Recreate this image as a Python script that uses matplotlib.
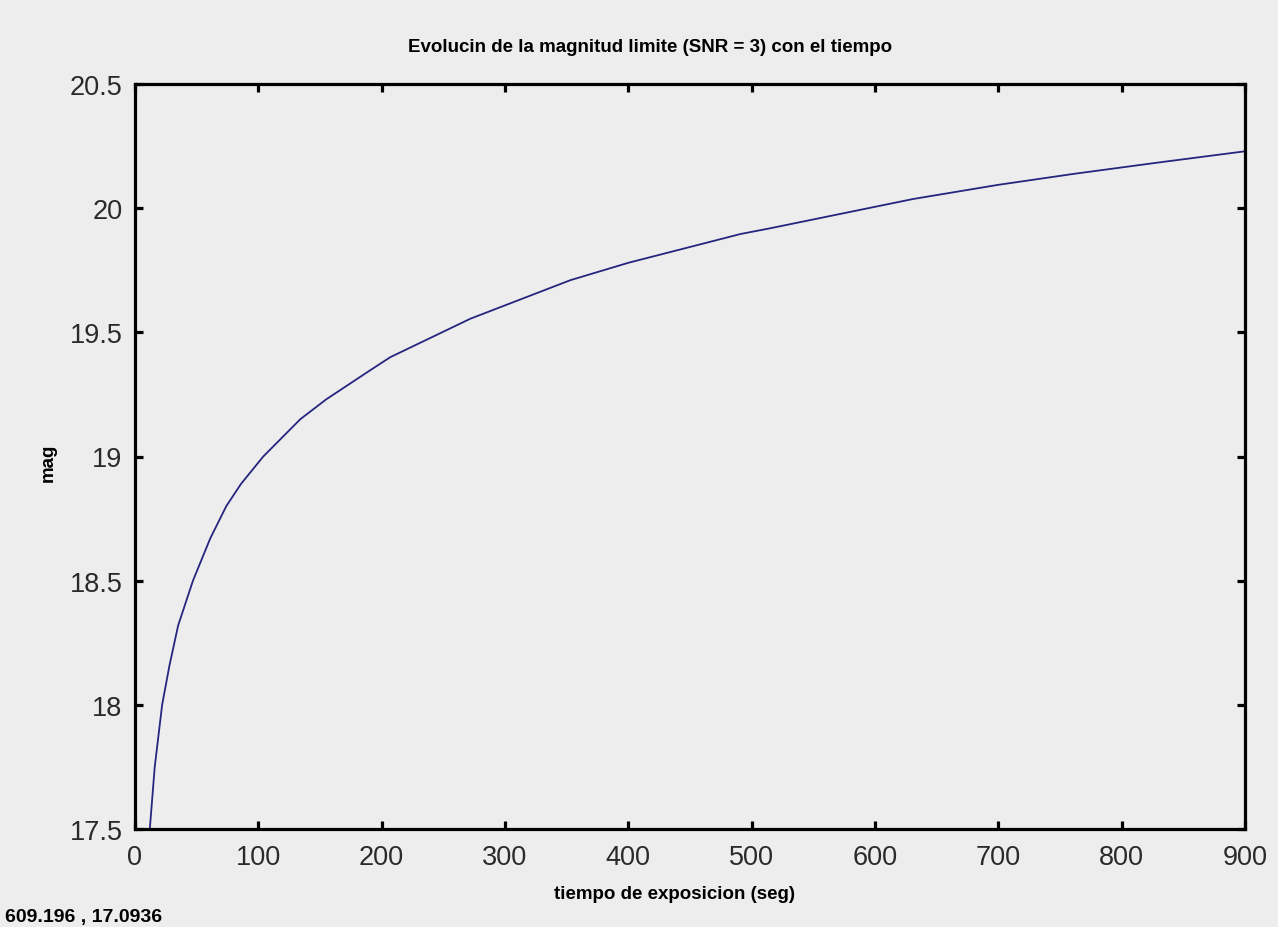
import matplotlib
matplotlib.use('Agg')
import matplotlib.pyplot as plt

# exposure time (s) and limiting magnitude at SNR = 3
tiempo = [12, 16, 22, 28, 35, 47, 61, 74, 86, 104, 134, 155, 190, 207, 272,
          353, 400, 491, 515, 631, 700, 761, 830, 900]
magnitud = [17.50, 17.75, 18.00, 18.16, 18.32, 18.50, 18.67, 18.80, 18.89,
            19.00, 19.15, 19.23, 19.345, 19.40, 19.555, 19.71, 19.78, 19.896,
            19.919, 20.037, 20.094, 20.138, 20.184, 20.229]

xticks = [0, 100, 200, 300, 400, 500, 600, 700, 800, 900]
yticks = [17.5, 18, 18.5, 19, 19.5, 20, 20.5]
ytick_labels = ['17.5', '18', '18.5', '19', '19.5', '20', '20.5']

bg = '#ededed'
bold_font = ['Liberation Sans', 'DejaVu Sans']

fig = plt.figure(figsize=(12.78, 9.28), dpi=100, facecolor=bg)
ax = fig.add_axes([135 / 1278, 98 / 928, 1110 / 1278, 745 / 928], facecolor=bg)

ax.plot(tiempo, magnitud, color='#25257f', linewidth=1.3)

ax.set_xlim(0, 900)
ax.set_ylim(17.5, 20.5)
ax.set_xticks(xticks)
ax.set_yticks(yticks)
ax.set_yticklabels(ytick_labels)

for side in ax.spines.values():
    side.set_linewidth(2.3)
    side.set_color('black')

ax.tick_params(direction='in', length=6, width=2.3, top=True, right=True,
               labelcolor='#2a2a2a', labelsize=19.5)
ax.tick_params(axis='x', pad=11)
ax.tick_params(axis='y', pad=9)
for lbl in ax.get_xticklabels() + ax.get_yticklabels():
    lbl.set_family('Liberation Sans')

fig.text(650 / 1278, 1 - 48 / 928,
         'Evolucin de la magnitud limite (SNR = 3) con el tiempo',
         ha='center', va='center', fontsize=13.5, fontweight='bold', family=bold_font)
fig.text(675 / 1278, 1 - 895 / 928, 'tiempo de exposicion (seg)',
         ha='center', va='center', fontsize=13.5, fontweight='bold', family=bold_font)
fig.text(48 / 1278, 1 - 463 / 928, 'mag', rotation=90,
         ha='center', va='center', fontsize=13.5, fontweight='bold', family=bold_font)

# pointer readout in the lower-left corner
fig.text(5 / 1278, 2 / 928, '609.196 , 17.0936',
         ha='left', va='bottom', fontsize=14, fontweight='bold', family=bold_font)

fig.savefig('out.png', dpi=100, facecolor=bg)
